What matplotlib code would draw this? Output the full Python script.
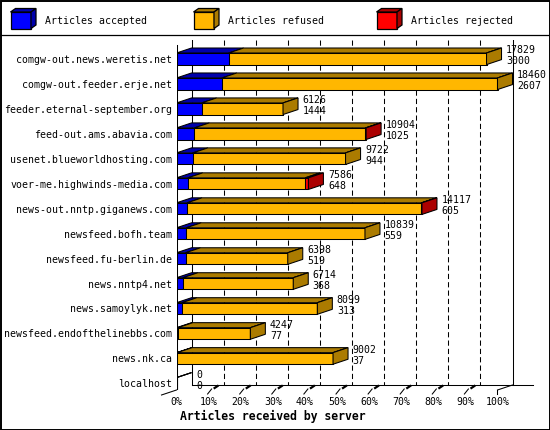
import numpy as np
import matplotlib
matplotlib.use('Agg')
import matplotlib.pyplot as plt
from matplotlib.patches import Polygon, Rectangle

plt.rcParams['font.family'] = 'DejaVu Sans Mono'

servers = ['comgw-out.news.weretis.net', 'comgw-out.feeder.erje.net',
           'feeder.eternal-september.org', 'feed-out.ams.abavia.com',
           'usenet.blueworldhosting.com', 'voer-me.highwinds-media.com',
           'news-out.nntp.giganews.com', 'newsfeed.bofh.team',
           'newsfeed.fu-berlin.de', 'news.nntp4.net', 'news.samoylyk.net',
           'newsfeed.endofthelinebbs.com', 'news.nk.ca', 'localhost']
offered = np.array([17829, 18460, 6126, 10904, 9722, 7586, 14117, 10839,
                    6398, 6714, 8099, 4247, 9002, 0])
accepted = np.array([3000, 2607, 1444, 1025, 944, 648, 605, 559,
                     519, 368, 313, 77, 37, 0])
rejected = np.array([0, 0, 0, 40, 0, 190, 30, 0, 0, 0, 0, 0, 0, 0])
refused = offered - accepted - rejected

series = ['Articles accepted', 'Articles refused', 'Articles rejected']
colours = ['#0000ff', '#ffb700', '#ff0000']
darks = ['#0000ab', '#ab7b00', '#ab0000']

# geometry (pixels at dpi 100)
W, H = 550, 430
X0 = 176.5          # 0% on the front plane
PXPCT = 3.21        # px per percent
ROW0 = 58.8         # centre of first row
ROWPX = 24.97       # px per row
TOP, BOT = 40, 390
XMAXPX = 533

def ox(p):
    return p / PXPCT

def oy(p):
    return p / ROWPX

DX, DY = ox(15), oy(5)
HH = oy(5.8)
ytop = (TOP - ROW0) / ROWPX
ybot = (BOT - ROW0) / ROWPX
xmax = (XMAXPX - X0) / PXPCT

fig = plt.figure(figsize=(5.5, 4.3), dpi=100)

# frame + legend layer
bg = fig.add_axes([0, 0, 1, 1])
bg.set_xlim(0, W)
bg.set_ylim(H, 0)
bg.axis('off')
bg.add_patch(Rectangle((0.5, 0.5), W - 1, H - 1, fill=False, ec='black', lw=1.4))
bg.plot([0, W], [34.5, 34.5], color='black', lw=0.9)

for k, name in enumerate(series):
    x, y, w, h, d1, d2 = 10.5 + 183 * k, 12, 20.5, 16.5, 5, 3.5
    bg.add_patch(Rectangle((x, y), w, h, fc=colours[k], ec='black', lw=0.9))
    bg.add_patch(Polygon([(x, y), (x + w, y), (x + w + d1, y - d2), (x + d1, y - d2)],
                         fc=darks[k], ec='black', lw=0.9))
    bg.add_patch(Polygon([(x + w, y), (x + w + d1, y - d2), (x + w + d1, y + h - d2), (x + w, y + h)],
                         fc=darks[k], ec='black', lw=0.9))
    bg.text(x + 34.5, 20.5, name, fontsize=7.1, va='center', ha='left')

# chart
ax = fig.add_axes([X0 / W, 1 - BOT / H, (XMAXPX - X0) / W, (BOT - TOP) / H])
ax.patch.set_visible(False)
ax.set_xlim(0, xmax)
ax.set_ylim(ybot, ytop)
for s in ax.spines.values():
    s.set_visible(False)

lw = 0.75
# back grid and walls
for k in range(10, 100, 10):
    ax.plot([k + DX, k + DX], [ytop, ybot - DY], color='black', lw=lw,
            linestyle=(0, (5, 3)), zorder=1)
ax.plot([DX, DX], [ytop, ybot - DY], color='black', lw=lw, zorder=1)
ax.plot([100 + DX, 100 + DX], [ytop, ybot - DY], color='black', lw=lw, zorder=1)
ax.plot([DX, xmax], [ybot - DY, ybot - DY], color='black', lw=lw, zorder=1, clip_on=False)
ax.plot([0, 0], [ytop + DY, ybot], color='black', lw=lw, zorder=5)
ax.plot([-DX, 0], [ybot + DY, ybot], color='black', lw=lw, zorder=5, clip_on=False)
ax.plot([100, 100 + DX], [ybot, ybot - DY], color='black', lw=lw, zorder=5, clip_on=False)
ax.plot([100, 100], [ybot, ybot + oy(4)], color='black', lw=lw, zorder=5, clip_on=False)
for k in range(10, 100, 10):
    ax.plot([k - ox(1), k + ox(3)], [ybot + oy(4), ybot - oy(1)], color='black',
            lw=lw, zorder=5, clip_on=False)
    ax.plot([k + ox(6), k + ox(9)], [ybot - oy(2), ybot - oy(4)], color='black',
            lw=1.6, zorder=5, clip_on=False)

# 3d stacked bars
scale = 100.0 / offered.max()
for i in range(len(servers)):
    vals = [accepted[i], refused[i], rejected[i]]
    left = 0.0
    last = None
    for k, v in enumerate(vals):
        w = v * scale
        yt, yb = i - HH, i + HH
        ax.add_patch(Rectangle((left, yt), w, 2 * HH, fc=colours[k], ec='black',
                               lw=lw, zorder=3))
        ax.add_patch(Polygon([(left, yt), (left + w, yt), (left + w + DX, yt - DY),
                              (left + DX, yt - DY)], fc=darks[k], ec='black',
                             lw=lw, zorder=3))
        if v > 0:
            last = k
        left += w
    if last is not None:
        yt, yb = i - HH, i + HH
        ax.add_patch(Polygon([(left, yt), (left + DX, yt - DY), (left + DX, yb - DY),
                              (left, yb)], fc=darks[last], ec='black', lw=lw, zorder=3))
    tx = left + DX + ox(4.5)
    ax.text(tx, i - oy(8.5), str(offered[i]), fontsize=7.1, va='center', ha='left', zorder=6)
    ax.text(tx, i + oy(2.5), str(accepted[i]), fontsize=7.1, va='center', ha='left', zorder=6)

ax.set_yticks(range(len(servers)))
ax.set_yticklabels(servers, fontsize=7.1)
ax.set_xticks(range(0, 101, 10))
ax.set_xticklabels([f'{k}%' for k in range(0, 101, 10)], fontsize=7.1)
ax.tick_params(axis='y', length=0, pad=3.2)
ax.tick_params(axis='x', length=0, pad=4.7)
ax.set_xlabel('Articles received by server', fontsize=8.3, fontweight='bold')
ax.xaxis.set_label_coords((180 - X0) / (XMAXPX - X0), -(410 - BOT) / (BOT - TOP))
ax.xaxis.label.set_horizontalalignment('left')

fig.savefig('out.png', dpi=100)
